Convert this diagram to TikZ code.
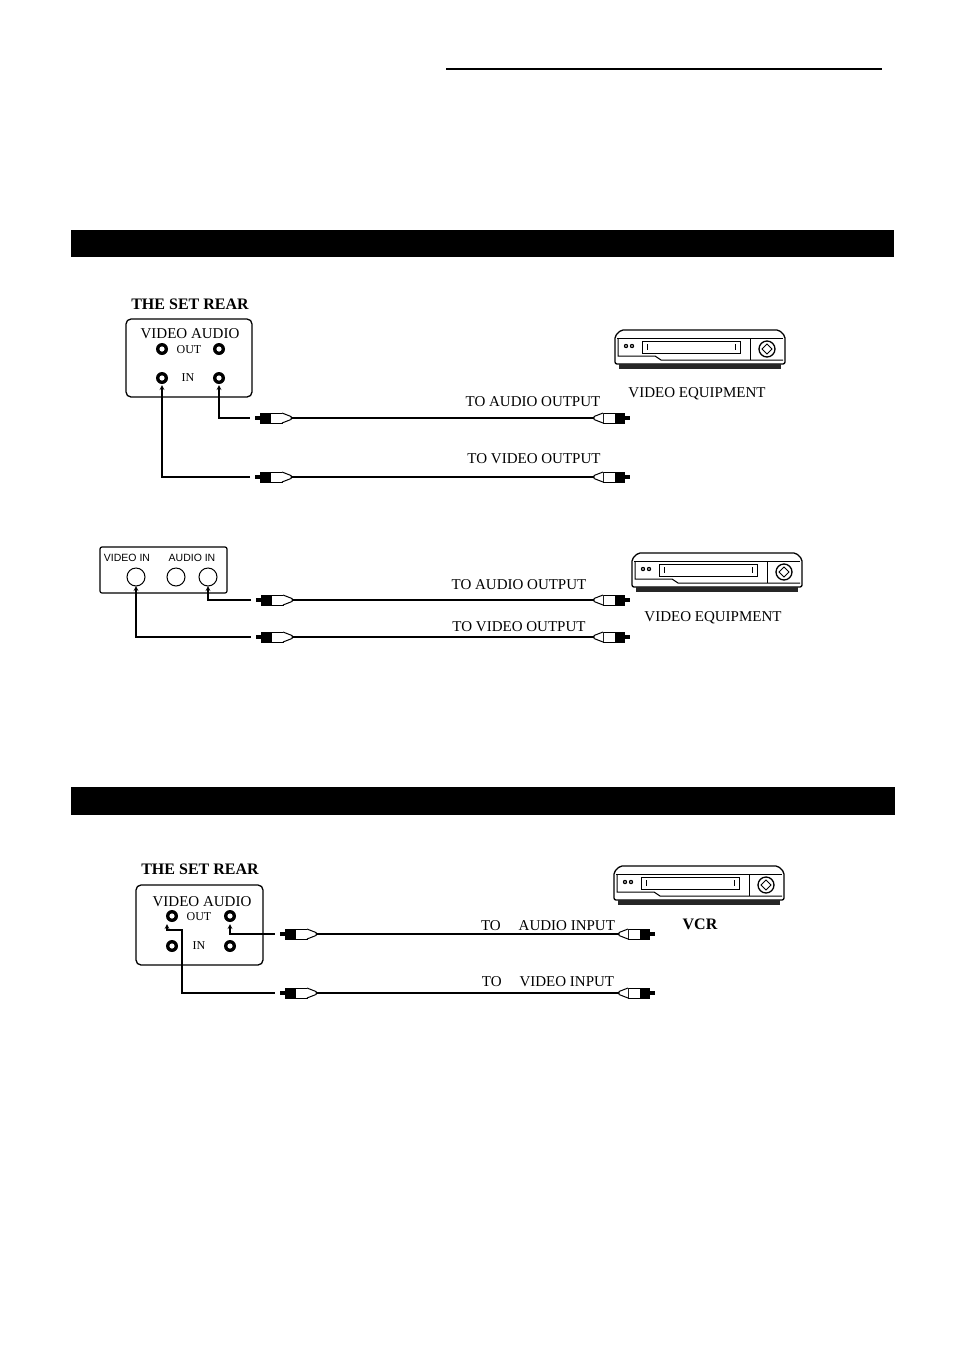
\documentclass[tikz,border=0pt]{standalone}
\usepackage{fontspec}
\setmainfont{Liberation Serif}
\setsansfont{Liberation Sans}
\begin{document}
\begin{tikzpicture}[x=1pt,y=-1pt,
  lbl/.style={inner sep=0,font=\fontsize{15}{16}\selectfont},
  ttl/.style={inner sep=0,font=\bfseries\fontsize{16}{17}\selectfont},
  sml/.style={inner sep=0,font=\fontsize{12}{13}\selectfont},
  cab/.style={line width=1.2pt},
  jackc/.pic={\fill[black] (0,0) circle (6);\fill[white] (0,0) circle (2.6);},
  plugL/.pic={\fill (0,-2) rectangle (6,2);\fill (5,-5.5) rectangle (15,5.5);
    \draw[line width=1pt,fill=white] (15,-5) rectangle (27,5);
    \draw[line width=1pt,fill=white] (27,-5) -- (36,-1.5) -- (36,1.5) -- (27,5);\draw[cab] (36,0)--(40,0);},
  plugR/.pic={\fill (0,-2) rectangle (-6,2);\fill (-5,-5.5) rectangle (-15,5.5);
    \draw[line width=1pt,fill=white] (-15,-5) rectangle (-27,5);
    \draw[line width=1pt,fill=white] (-27,-5) -- (-36,-1.5) -- (-36,1.5) -- (-27,5);\draw[cab] (-36,0)--(-40,0);},
  vcr/.pic={
    \draw[line width=1.3pt,rounded corners=2] (0,6) -- (6,0) -- (164,0) -- (170,6) -- (170,34) -- (0,34) -- cycle;
    \draw[line width=1pt] (2,8) -- (168,8);
    \draw[line width=1pt] (3,8) -- (3,26) -- (40,26) -- (46,30) -- (168,30);
    \draw[line width=1pt] (135,8) -- (135,30);
    \draw[line width=1pt] (27,11) rectangle (125,23);
    \draw[line width=1pt] (32,14)--(32,20) (120,14)--(120,20);
    \fill (11,16) circle (2.2) (17,16) circle (2.2);
    \fill[white] (11,16) circle (0.9) (17,16) circle (0.9);
    \draw[line width=1.3pt] (152,19) circle (8);
    \draw[line width=1pt] (152,14)--(157,19)--(152,24)--(147,19)--cycle;
    \fill[black!85] (4,34) rectangle (166,39);
  }]
\useasboundingbox[fill=white] (0,0) rectangle (954,1350);
\draw[line width=1.6pt] (446,69) -- (882,69);
\fill (71,230) rectangle (894,257);
\fill (71,787) rectangle (895,815);

% ---- section 1a
\node[ttl] (t1) at (190,304) {THE SET REAR};
\draw[line width=1.3pt,rounded corners=5] (126,319) rectangle (252,397);
\node[lbl] (va1) at (190,334) {VIDEO AUDIO};
\pic at (162,349) {jackc}; \pic at (219,349) {jackc};
\pic at (162,378) {jackc}; \pic at (219,378) {jackc};
\node[sml] (o1) at (189,350) {OUT};
\node[sml] (i1) at (188,378) {IN};
\coordinate (j1a) at (219,385); \coordinate (j1v) at (162,385);
\draw[cab,<-,>=stealth] (j1a) -- (219,418) -- (250,418);
\draw[cab,<-,>=stealth] (j1v) -- (162,477) -- (250,477);
\pic at (255,418) {plugL}; \pic at (630,418) {plugR};
\pic at (255,477) {plugL}; \pic at (630,477) {plugR};
\draw[cab] (295,418) -- (590,418); \draw[cab] (295,477) -- (590,477);
\node[lbl] (a1) at (533,402) {TO AUDIO OUTPUT};
\node[lbl] (v1) at (534,459) {TO VIDEO OUTPUT};
\pic at (615,330) {vcr};
\node[lbl] (e1) at (697,394) {VIDEO EQUIPMENT};

% ---- section 1b
\draw[line width=1.2pt,rounded corners=2] (100,547) rectangle (227,593);
\node[inner sep=0,font=\sffamily\fontsize{10.5}{11}\selectfont] (vi) at (127,558) {VIDEO IN};
\node[inner sep=0,font=\sffamily\fontsize{10.5}{11}\selectfont] (ai) at (192,558) {AUDIO IN};
\draw[line width=1pt] (136,577) circle (9) (176,577) circle (9) (208,577) circle (9);
\coordinate (j2a) at (208,586); \coordinate (j2v) at (136,586);
\draw[cab,<-,>=stealth] (j2a) -- (208,600) -- (251,600);
\draw[cab,<-,>=stealth] (j2v) -- (136,637) -- (251,637);
\pic at (256,600) {plugL}; \pic at (630,600) {plugR};
\pic at (256,637) {plugL}; \pic at (630,637) {plugR};
\draw[cab] (296,600) -- (590,600); \draw[cab] (296,637) -- (590,637);
\node[lbl] (a2) at (519,585) {TO AUDIO OUTPUT};
\node[lbl] (v2) at (519,627) {TO VIDEO OUTPUT};
\begin{scope}[shift={(632,553)},xscale=0.93,yscale=0.98]\pic {vcr};\end{scope}
\node[lbl] (e2) at (713,618) {VIDEO EQUIPMENT};

% ---- section 2
\node[ttl] (t2) at (200,869) {THE SET REAR};
\draw[line width=1.3pt,rounded corners=5] (136,885) rectangle (263,965);
\node[lbl] (va2) at (202,902) {VIDEO AUDIO};
\pic at (172,916) {jackc}; \pic at (230,916) {jackc};
\pic at (172,946) {jackc}; \pic at (230,946) {jackc};
\node[sml] (o2) at (199,917) {OUT};
\node[sml] (i2) at (199,946) {IN};
\coordinate (j3a) at (230,924); \coordinate (j3v) at (167,924);
\draw[cab,<-,>=stealth] (j3a) -- (230,934) -- (275,934);
\draw[cab,<-,>=stealth] (j3v) -- (167,930) -- (182,930) -- (182,993) -- (275,993);
\pic at (280,934) {plugL}; \pic at (655,934) {plugR};
\pic at (280,993) {plugL}; \pic at (655,993) {plugR};
\draw[cab] (320,934) -- (615,934); \draw[cab] (320,993) -- (615,993);
\node[lbl] (a3) at (548,926) {TO\hspace{1.2em}AUDIO INPUT};
\node[lbl] (v3) at (548,982) {TO\hspace{1.2em}VIDEO INPUT};
\begin{scope}[shift={(614,866)},xscale=0.95,yscale=0.95]\pic {vcr};\end{scope}
\node[ttl] (e3) at (700,924) {VCR};
\end{tikzpicture}
\end{document}
